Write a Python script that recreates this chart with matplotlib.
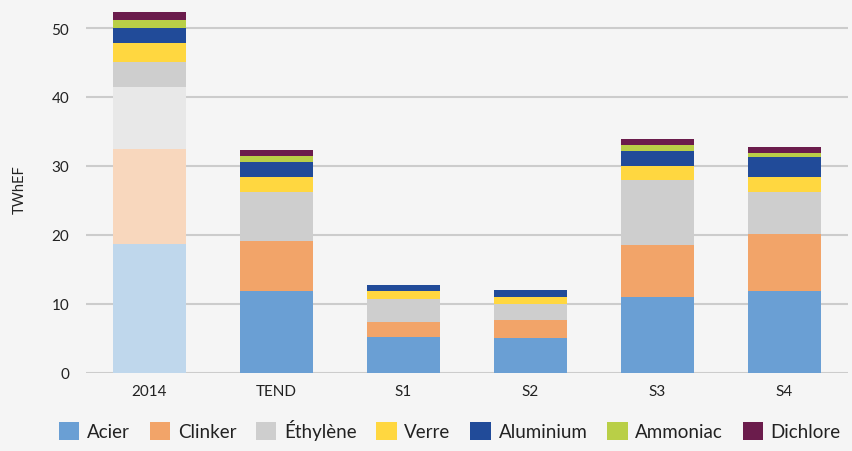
import matplotlib
matplotlib.use("Agg")
import matplotlib.pyplot as plt
from matplotlib.patches import Patch

categories = ["2014", "TEND", "S1", "S2", "S3", "S4"]
series_names = ["Acier", "Clinker", "Éthylène", "Verre", "Aluminium", "Ammoniac", "Dichlore"]
acier = [18.65, 11.8, 5.15, 5.0, 11.0, 11.8]
clinker = [13.85, 7.3, 2.15, 2.6, 7.5, 8.3]
ethylene = [9.0, 7.1, 3.4, 2.3, 9.4, 6.1]
ethylene_extra = [3.6, 0, 0, 0, 0, 0]
verre = [2.8, 2.2, 1.1, 1.05, 2.1, 2.2]
aluminium = [2.1, 2.2, 0.9, 1.05, 2.1, 2.9]
ammoniac = [1.2, 0.8, 0.0, 0.0, 0.9, 0.6]
dichlore = [1.1, 0.9, 0.0, 0.0, 0.9, 0.8]

colors = {
    "Acier": "#6a9fd4", "Clinker": "#f2a469", "Éthylène": "#cecece",
    "Verre": "#ffd740", "Aluminium": "#214b99", "Ammoniac": "#b9cf47",
    "Dichlore": "#6b1c4c",
}
light = {"Acier": "#bfd7ec", "Clinker": "#f8d7bd", "Éthylène": "#e8e8e8"}

plt.rcParams['font.family'] = ['Lato', 'DejaVu Sans']
fig = plt.figure(figsize=(8.52, 4.52), dpi=100, facecolor="#f5f5f5")
ax = fig.add_axes([86/852, 1-373.5/452, (848-86)/852, (373.5-5)/452])
ax.set_facecolor("#f5f5f5")

x = list(range(len(categories)))
w = 0.57
bottom = [0.0]*len(categories)
stack = [("Acier", acier, True), ("Clinker", clinker, True), ("Éthylène", ethylene, True),
         ("Éthylène", ethylene_extra, False), ("Verre", verre, False),
         ("Aluminium", aluminium, False), ("Ammoniac", ammoniac, False),
         ("Dichlore", dichlore, False)]
for name, vals, use_light in stack:
    cols = []
    for i in range(len(categories)):
        if i == 0 and use_light:
            cols.append(light[name])
        else:
            cols.append(colors[name])
    ax.bar(x, vals, w, bottom=bottom, color=cols, zorder=3, linewidth=0)
    bottom = [b + v for b, v in zip(bottom, vals)]

ax.set_xlim(-0.5, 5.5)
ax.set_ylim(0, 53.5)
ax.set_yticks([0, 10, 20, 30, 40, 50])
ax.set_xticks(x)
ax.set_xticklabels(categories)
ax.yaxis.grid(True, color="#cccccc", linewidth=1.5, zorder=0)
ax.set_axisbelow(True)
for s in ax.spines.values():
    s.set_visible(False)
ax.tick_params(axis="both", length=0, labelsize=11, colors="#222222")
ax.tick_params(axis="y", pad=12)
ax.tick_params(axis="x", pad=8)
ax.set_ylabel("TWhEF", fontsize=10.5, color="#222222", labelpad=18)

handles = [Patch(facecolor=colors[n], label=n) for n in series_names]
fig.legend(handles=handles, loc="lower center", ncol=7, bbox_to_anchor=(0.528, -0.014),
           frameon=False, fontsize=13.5, handlelength=1.1, handleheight=1.1,
           handletextpad=0.4, columnspacing=1.05, labelcolor="#222222")

fig.savefig("out.png", dpi=100, facecolor="#f5f5f5")
